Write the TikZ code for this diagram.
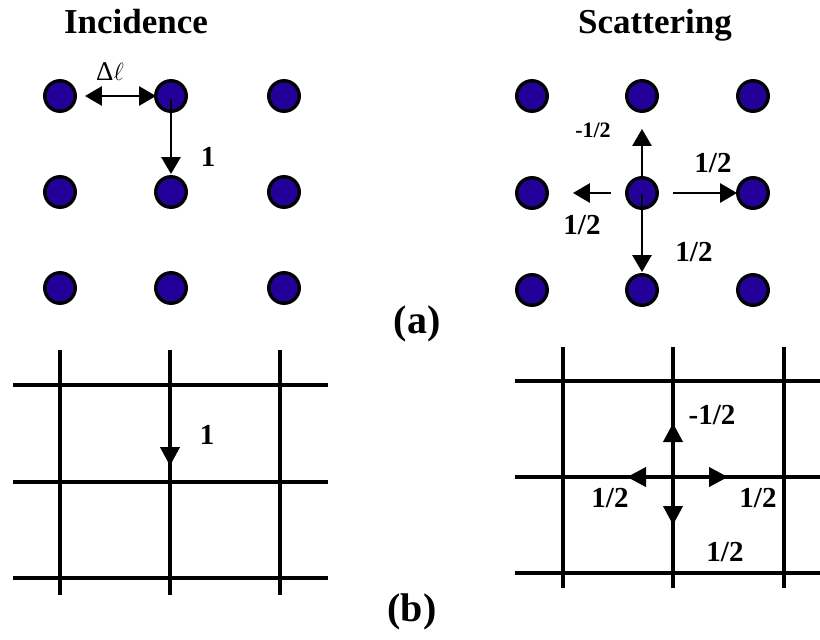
\documentclass[tikz,border=0pt]{standalone}
\usepackage{fontspec}
\setmainfont{Liberation Serif}
\usetikzlibrary{arrows.meta}
\definecolor{dotblue}{RGB}{34,0,153}
\tikzset{
  site/.style={circle,draw=black,line width=3.4pt,fill=dotblue,minimum size=30.5pt,inner sep=0pt},
  gridline/.style={line width=3.8pt,black},
  bigarrow/.style={line width=2.8pt,-{Triangle[length=17pt,width=19pt]}},
  gridarrow/.style={line width=3.8pt,-{Triangle[length=19pt,width=19pt]}},
  lbl/.style={font=\bfseries\fontsize{29}{29}\selectfont,inner sep=0pt},
  smalllbl/.style={font=\bfseries\fontsize{22}{22}\selectfont,inner sep=0pt},
  title/.style={font=\bfseries\fontsize{35}{35}\selectfont,inner sep=0pt,anchor=base},
  panel/.style={font=\bfseries\fontsize{40}{40}\selectfont,inner sep=0pt}
}
\begin{document}
\begin{tikzpicture}[x=1pt,y=-1pt]
\useasboundingbox (0,0) rectangle (820,640);
% titles
\node[title] (tInc) at (136,33) {Incidence};
\node[title] (tSca) at (655,33) {Scattering};
\node[panel] (la) at (417,324) {(a)};
\node[panel] (lb) at (412,612) {(b)};
% left dot lattice
\foreach \i/\x in {1/60,2/171,3/284}{
  \foreach \j/\y in {1/96,2/192,3/288}{
    \node[site] (L\i\j) at (\x,\y) {};
  }
}
% right dot lattice
\foreach \i/\x in {1/532,2/642,3/753}{
  \foreach \j/\y in {1/96,2/193,3/290}{
    \node[site] (R\i\j) at (\x,\y) {};
  }
}
% incidence arrows (a)
\draw[line width=2.8pt,{Triangle[length=17pt,width=19pt]}-{Triangle[length=17pt,width=19pt]}] ([xshift=8pt]L11.east) -- ([xshift=2pt]L21.west);
\node[inner sep=0pt,font=\fontsize{27}{27}\selectfont] (dl) at (110,72) {Δ$\ell$};
\draw[bigarrow] ([yshift=14pt]L21.south) -- ([yshift=1pt]L22.north);
\node[lbl] (one1) at (208,157) {1};
% scattering arrows (a)
\draw[bigarrow] ([yshift=-1pt]R22.north) -- ([yshift=-16pt]R21.south);
\draw[bigarrow] ([xshift=-14pt]R22.west) -- ([xshift=24pt]R12.east);
\draw[bigarrow] ([xshift=14pt]R22.east) -- ([xshift=1pt]R32.west);
\draw[bigarrow] ([yshift=16pt]R22.south) -- ([yshift=1pt]R23.north);
\node[smalllbl] (s1) at (593,130) {-1/2};
\node[lbl] (s2) at (713,163) {1/2};
\node[lbl] (s3) at (582,225) {1/2};
\node[lbl] (s4) at (694,252) {1/2};
% (b) left grid
\foreach \y [count=\k] in {385,482,578}{
  \coordinate (BLh\k a) at (13,\y);
  \coordinate (BLh\k b) at (328,\y);
  \draw[gridline] (BLh\k a) -- (BLh\k b);
}
\foreach \x [count=\k] in {60,170,280}{
  \coordinate (BLv\k a) at (\x,350);
  \coordinate (BLv\k b) at (\x,595);
  \draw[gridline] (BLv\k a) -- (BLv\k b);
}
\coordinate (BLtip) at (170,466);
\draw[gridarrow] (BLv2a) -- (BLtip);
\node[lbl] (one2) at (207,435) {1};
% (b) right grid
\foreach \y [count=\k] in {381,477,573}{
  \coordinate (BRh\k a) at (515,\y);
  \coordinate (BRh\k b) at (820,\y);
  \draw[gridline] (BRh\k a) -- (BRh\k b);
}
\foreach \x [count=\k] in {563,673,784}{
  \coordinate (BRv\k a) at (\x,347);
  \coordinate (BRv\k b) at (\x,588);
  \draw[gridline] (BRv\k a) -- (BRv\k b);
}
\coordinate (C) at (673,477);
\coordinate (Cu) at (673,423);
\coordinate (Cd) at (673,525);
\coordinate (Cl) at (627,477);
\coordinate (Cr) at (728,477);
\draw[gridarrow] (C) -- (Cu);
\draw[gridarrow] (C) -- (Cd);
\draw[gridarrow] (C) -- (Cl);
\draw[gridarrow] (C) -- (Cr);
\node[lbl] (b1) at (712,415) {-1/2};
\node[lbl] (b2) at (610,498) {1/2};
\node[lbl] (b3) at (758,498) {1/2};
\node[lbl] (b4) at (725,552) {1/2};
\end{tikzpicture}
\end{document}
